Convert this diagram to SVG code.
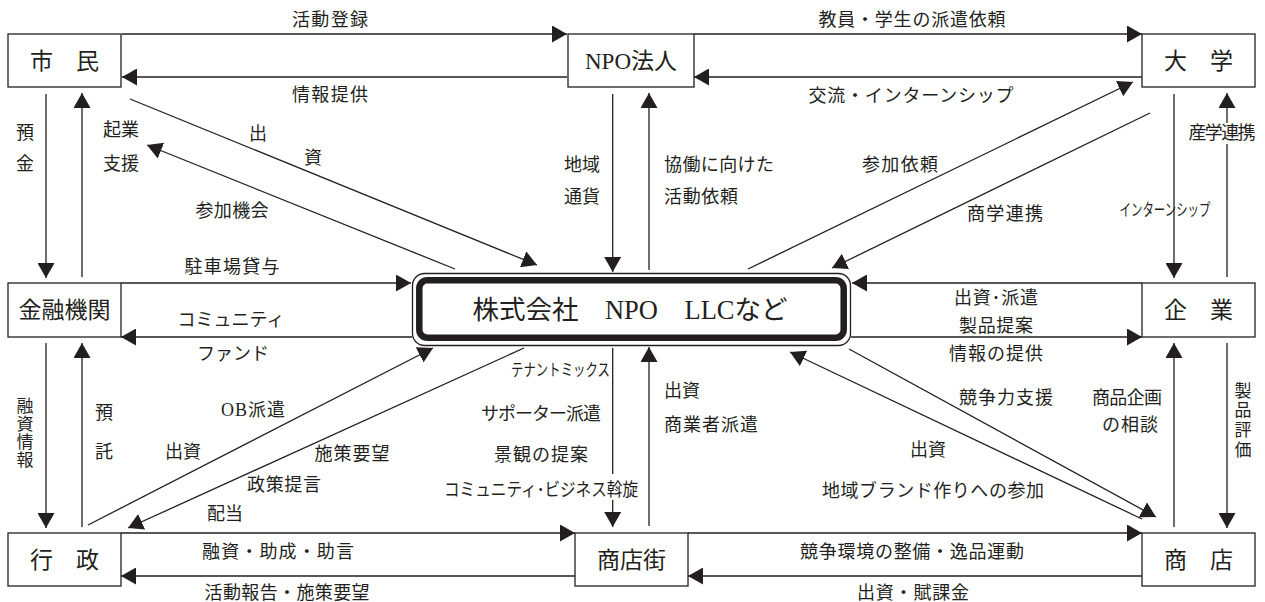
<svg xmlns="http://www.w3.org/2000/svg" width="1265" height="602" viewBox="0 0 1265 602">
<style>
.bg{fill:#ffffff}
.box{fill:#ffffff;stroke:#231f20;stroke-width:1.3}
.c{stroke:#231f20;stroke-width:1.3;fill:none}
.a{marker-end:url(#ah)}
text{font-family:"Liberation Serif","Noto Sans CJK JP",serif;fill:#231f20;dominant-baseline:central}
.l{font-size:18px}
.m{text-anchor:middle}
.n{font-size:23px;text-anchor:middle}
.s{font-size:16.5px}
.v{font-size:17px;text-anchor:middle}
</style>
<defs>
<marker id="ah" markerUnits="userSpaceOnUse" markerWidth="15" markerHeight="17" viewBox="0 0 15 17" refX="15" refY="8.5" orient="auto">
<path d="M0,0 L15,8.5 L0,17 z" fill="#231f20"/>
</marker>
</defs>
<rect class="bg" x="0" y="0" width="1265" height="602"/>

<g id="connectors">
<line class="c a" x1="122" y1="34" x2="567" y2="34"/>
<line class="c a" x1="567" y1="77" x2="122" y2="77"/>
<line class="c a" x1="694" y1="34" x2="1142" y2="34"/>
<line class="c a" x1="1142" y1="77" x2="694" y2="77"/>
<line class="c a" x1="121" y1="283" x2="411" y2="283"/>
<line class="c a" x1="412" y1="337" x2="121" y2="337"/>
<line class="c a" x1="1142" y1="283" x2="852" y2="283"/>
<line class="c a" x1="851" y1="337" x2="1142" y2="337"/>
<line class="c a" x1="121" y1="533" x2="575" y2="533"/>
<line class="c a" x1="575" y1="576" x2="121" y2="576"/>
<line class="c a" x1="688" y1="533" x2="1142" y2="533"/>
<line class="c a" x1="1142" y1="576" x2="688" y2="576"/>
<line class="c a" x1="46" y1="94" x2="46" y2="278"/>
<line class="c a" x1="82" y1="277" x2="82" y2="93"/>
<line class="c a" x1="46" y1="343" x2="46" y2="528"/>
<line class="c a" x1="82" y1="527" x2="82" y2="343"/>
<line class="c a" x1="612.7" y1="94" x2="612.7" y2="272"/>
<line class="c a" x1="649" y1="270" x2="649" y2="93"/>
<line class="c a" x1="1174" y1="94" x2="1174" y2="278"/>
<line class="c a" x1="1227" y1="277" x2="1227" y2="93"/>
<line class="c a" x1="1227" y1="343" x2="1227" y2="528"/>
<line class="c a" x1="1174" y1="527" x2="1174" y2="343"/>
<line class="c a" x1="612.7" y1="348" x2="612.7" y2="527"/>
<line class="c a" x1="649" y1="526" x2="649" y2="347"/>
<line class="c a" x1="130" y1="99" x2="537" y2="265"/>
<line class="c a" x1="455" y1="269" x2="147" y2="145"/>
<line class="c a" x1="748" y1="269" x2="1133" y2="82"/>
<line class="c a" x1="1150" y1="113" x2="832" y2="268"/>
<line class="c a" x1="88" y1="525" x2="433" y2="348"/>
<line class="c a" x1="524" y1="348" x2="128" y2="528"/>
<line class="c a" x1="849" y1="349" x2="1156" y2="517"/>
<line class="c a" x1="1142" y1="519" x2="790" y2="352"/>
</g>

<g id="node-shimin"><rect class="box" x="8" y="34" width="113" height="53"/><text class="n" x="64.5" y="61">市　民</text></g>
<g id="node-npo"><rect class="box" x="568" y="34" width="126" height="53"/><text class="n" x="631" y="61" font-size="24">NPO法人</text></g>
<g id="node-daigaku"><rect class="box" x="1142" y="34" width="113" height="53"/><text class="n" x="1198.5" y="61">大　学</text></g>
<g id="node-kinyu"><rect class="box" x="8" y="283" width="113" height="54"/><text class="n" x="64.5" y="310">金融機関</text></g>
<g id="node-center">
<rect x="412.5" y="273.5" width="438" height="72" rx="12" ry="12" fill="#ffffff" stroke="#231f20" stroke-width="1.3"/>
<rect x="419.3" y="280.3" width="424.4" height="57.4" rx="8" ry="8" fill="#ffffff" stroke="#231f20" stroke-width="6.5"/>
<text x="630" y="310" font-size="26.5" text-anchor="middle">株式会社　NPO　LLCなど</text>
</g>
<g id="node-kigyo"><rect class="box" x="1142" y="283" width="113" height="54"/><text class="n" x="1198.5" y="310">企　業</text></g>
<g id="node-gyosei"><rect class="box" x="8" y="533" width="113" height="53"/><text class="n" x="64.5" y="560">行　政</text></g>
<g id="node-shotengai"><rect class="box" x="575" y="533" width="113" height="53"/><text class="n" x="631.5" y="560">商店街</text></g>
<g id="node-shoten"><rect class="box" x="1142" y="533" width="113" height="53"/><text class="n" x="1198.5" y="560">商　店</text></g>

<g id="labels">
<text class="l m" x="330" y="20" textLength="76" lengthAdjust="spacing">活動登録</text>
<text class="l m" x="330" y="95" textLength="76" lengthAdjust="spacing">情報提供</text>
<text class="l m" x="912" y="20" textLength="187" lengthAdjust="spacing">教員・学生の派遣依頼</text>
<text class="l m" x="911" y="96" textLength="205" lengthAdjust="spacing">交流・インターンシップ</text>
<text class="l m" x="258" y="134">出</text>
<text class="l m" x="313" y="158">資</text>
<text class="l m" x="121" y="130">起業</text>
<text class="l m" x="121" y="164">支援</text>
<text class="l m" x="232" y="211" textLength="73" lengthAdjust="spacing">参加機会</text>
<text class="l m" x="25" y="133">預</text>
<text class="l m" x="25" y="164">金</text>
<text class="l m" x="582" y="165">地域</text>
<text class="l m" x="582" y="197">通貨</text>
<text class="l" x="664" y="165" textLength="110" lengthAdjust="spacing">協働に向けた</text>
<text class="l" x="664" y="197" textLength="74" lengthAdjust="spacing">活動依頼</text>
<text class="l m" x="900" y="165" textLength="76" lengthAdjust="spacing">参加依頼</text>
<rect class="bg" x="1188" y="123" width="69" height="21"/>
<text class="l m" x="1222" y="133" font-size="16" textLength="67" lengthAdjust="spacing">産学連携</text>
<text class="s m" x="1165" y="210" textLength="91" lengthAdjust="spacingAndGlyphs">インターンシップ</text>
<text class="l m" x="1005" y="214" textLength="76" lengthAdjust="spacing">商学連携</text>
<text class="l m" x="232" y="267" textLength="95" lengthAdjust="spacing">駐車場貸与</text>
<text class="l m" x="231" y="320" textLength="107" lengthAdjust="spacing">コミュニティ</text>
<text class="l m" x="233" y="354" textLength="72" lengthAdjust="spacing">ファンド</text>
<text class="l m" x="996" y="298" textLength="84" lengthAdjust="spacing">出資･派遣</text>
<text class="l m" x="996" y="326" textLength="74" lengthAdjust="spacing">製品提案</text>
<text class="l m" x="996" y="354" textLength="94" lengthAdjust="spacing">情報の提供</text>
<text class="v" x="25" y="406">融</text>
<text class="v" x="25" y="424">資</text>
<text class="v" x="25" y="442">情</text>
<text class="v" x="25" y="460">報</text>
<text class="l m" x="104" y="413">預</text>
<text class="l m" x="104" y="452">託</text>
<text class="l m" x="253" y="410" textLength="64" lengthAdjust="spacing">OB派遣</text>
<text class="l m" x="183" y="452">出資</text>
<text class="l m" x="352" y="454" textLength="75" lengthAdjust="spacing">施策要望</text>
<text class="l m" x="284" y="485" textLength="74" lengthAdjust="spacing">政策提言</text>
<text class="l m" x="225" y="514">配当</text>
<text class="l m" x="278" y="552" textLength="152" lengthAdjust="spacing">融資・助成・助言</text>
<text class="l m" x="287" y="593" textLength="165" lengthAdjust="spacing">活動報告・施策要望</text>
<text class="s" x="610" y="370" text-anchor="end" textLength="99" lengthAdjust="spacingAndGlyphs">テナントミックス</text>
<text class="l m" x="541" y="414" textLength="120" lengthAdjust="spacing">サポーター派遣</text>
<text class="l m" x="541" y="455" textLength="94" lengthAdjust="spacing">景観の提案</text>
<rect class="bg" x="598" y="474" width="34" height="26"/>
<text class="l m" x="541" y="490" textLength="194" lengthAdjust="spacingAndGlyphs">コミュニティ･ビジネス斡旋</text>
<text class="l" x="664" y="391">出資</text>
<text class="l" x="664" y="425" textLength="94" lengthAdjust="spacing">商業者派遣</text>
<text class="l m" x="912" y="552" textLength="224" lengthAdjust="spacing">競争環境の整備・逸品運動</text>
<text class="l m" x="913" y="593" textLength="112" lengthAdjust="spacing">出資・賦課金</text>
<text class="l m" x="1006" y="398" textLength="94" lengthAdjust="spacing">競争力支援</text>
<text class="l m" x="1127" y="398" textLength="70" lengthAdjust="spacing">商品企画</text>
<text class="l m" x="1130" y="425" textLength="56" lengthAdjust="spacing">の相談</text>
<text class="v" x="1243" y="391">製</text>
<text class="v" x="1243" y="410">品</text>
<text class="v" x="1243" y="430">評</text>
<text class="v" x="1243" y="450">価</text>
<text class="l m" x="928" y="450">出資</text>
<text class="l m" x="933" y="491" textLength="222" lengthAdjust="spacing">地域ブランド作りへの参加</text>
</g>
</svg>
